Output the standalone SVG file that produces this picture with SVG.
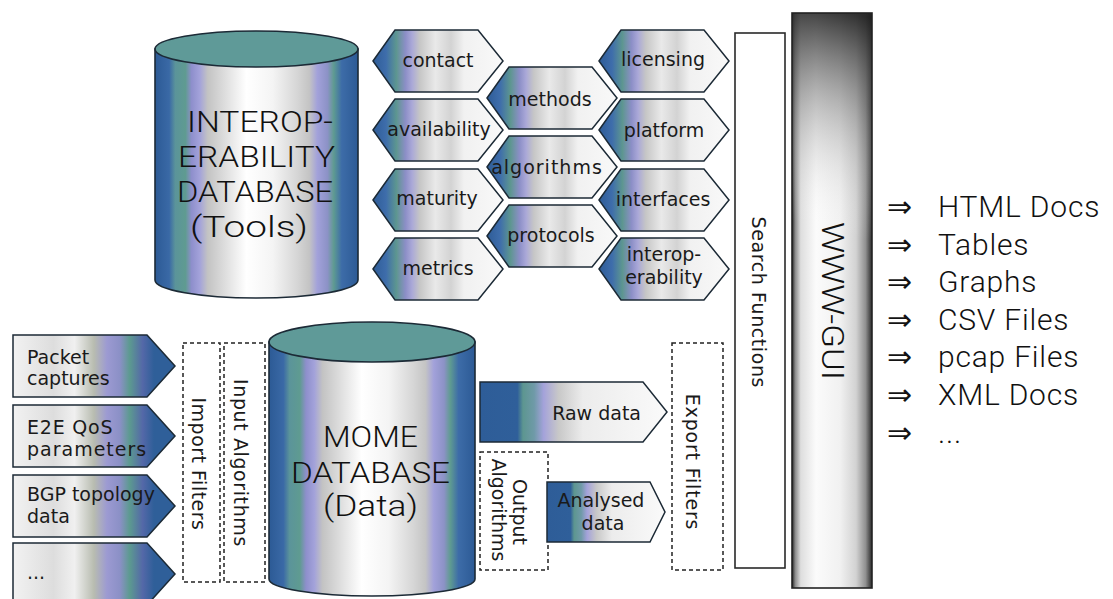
<svg xmlns="http://www.w3.org/2000/svg" xmlns:xlink="http://www.w3.org/1999/xlink" width="1113" height="599" viewBox="0 0 1113 599">
  <style>
    .lbl { font-family: "DejaVu Sans", Verdana, sans-serif; font-size: 19px; fill: #1a1a1a; }
    .lblc { text-anchor: middle; }
    .big { font-family: Roboto, "Liberation Sans", Arial, sans-serif; font-weight: 300; fill: #111111; }
    .list { font-family: Roboto, "Liberation Sans", Arial, sans-serif; font-weight: 300; font-size: 30px; fill: #111111; letter-spacing: 0.8px; }
    .arr { font-family: "DejaVu Sans", sans-serif; font-size: 30px; fill: #141414; }
    .edge { stroke: #1c2a36; stroke-width: 1.6; }
    .dash { fill: #ffffff; stroke: #222222; stroke-width: 1.5; stroke-dasharray: 4 3; }
    .box { fill: #ffffff; stroke: #2a2a2a; stroke-width: 1.6; }
    .rot { text-anchor: middle; }
  </style>
  <defs>
    <!-- cylinder body shading -->
    <linearGradient id="gCyl" x1="0" y1="0" x2="1" y2="0">
      <stop offset="0" stop-color="#2c5a95"/>
      <stop offset="0.07" stop-color="#3a69a6"/>
      <stop offset="0.1" stop-color="#5b949a"/>
      <stop offset="0.15" stop-color="#5f9b91"/>
      <stop offset="0.18" stop-color="#8e8fcc"/>
      <stop offset="0.22" stop-color="#a3a2da"/>
      <stop offset="0.26" stop-color="#c3c3c3"/>
      <stop offset="0.34" stop-color="#dcdcdc"/>
      <stop offset="0.45" stop-color="#ffffff"/>
      <stop offset="0.58" stop-color="#f4f4f4"/>
      <stop offset="0.7" stop-color="#d6d6d6"/>
      <stop offset="0.76" stop-color="#c4c4c4"/>
      <stop offset="0.8" stop-color="#a2a1da"/>
      <stop offset="0.85" stop-color="#8c92c6"/>
      <stop offset="0.88" stop-color="#5f9b91"/>
      <stop offset="0.92" stop-color="#3d6ca8"/>
      <stop offset="1" stop-color="#2c5a95"/>
    </linearGradient>
    <!-- hexagonal attribute tags: dark on the left -->
    <linearGradient id="gHex" x1="0" y1="0" x2="1" y2="0">
      <stop offset="0" stop-color="#2e5c97"/>
      <stop offset="0.1" stop-color="#3e6dab"/>
      <stop offset="0.18" stop-color="#5d9690"/>
      <stop offset="0.25" stop-color="#8c8fc7"/>
      <stop offset="0.3" stop-color="#aaa8d8"/>
      <stop offset="0.36" stop-color="#c6c6c6"/>
      <stop offset="0.48" stop-color="#e9e9e9"/>
      <stop offset="0.6" stop-color="#d3d3d3"/>
      <stop offset="0.7" stop-color="#f1f1f1"/>
      <stop offset="1" stop-color="#f9f9f9"/>
    </linearGradient>
    <!-- input source tags: dark on the right -->
    <linearGradient id="gIn" x1="0" y1="0" x2="1" y2="0">
      <stop offset="0" stop-color="#f2f2f2"/>
      <stop offset="0.25" stop-color="#dddddd"/>
      <stop offset="0.38" stop-color="#f0f0f0"/>
      <stop offset="0.5" stop-color="#b8bcb0"/>
      <stop offset="0.58" stop-color="#9c9ad2"/>
      <stop offset="0.66" stop-color="#8b90c6"/>
      <stop offset="0.72" stop-color="#5c9a90"/>
      <stop offset="0.8" stop-color="#5468a8"/>
      <stop offset="0.87" stop-color="#2f5f99"/>
      <stop offset="1" stop-color="#2f5f99"/>
    </linearGradient>
    <!-- output tags: solid dark block on the left -->
    <linearGradient id="gOut" x1="0" y1="0" x2="1" y2="0">
      <stop offset="0" stop-color="#2e5d98"/>
      <stop offset="0.2" stop-color="#2f5f9a"/>
      <stop offset="0.23" stop-color="#5d9690"/>
      <stop offset="0.29" stop-color="#6f9aa8"/>
      <stop offset="0.34" stop-color="#a4a2da"/>
      <stop offset="0.42" stop-color="#c8c8c8"/>
      <stop offset="0.55" stop-color="#ececec"/>
      <stop offset="1" stop-color="#fafafa"/>
    </linearGradient>
    <!-- web front end column -->
    <linearGradient id="gWeb" gradientUnits="userSpaceOnUse" x1="792" y1="300" x2="872" y2="300">
      <stop offset="0" stop-color="#202020"/>
      <stop offset="0.04" stop-color="#8a8a8a"/>
      <stop offset="0.11" stop-color="#dedede"/>
      <stop offset="0.3" stop-color="#fbfbfb"/>
      <stop offset="0.6" stop-color="#f1f1f1"/>
      <stop offset="0.8" stop-color="#d2d2d2"/>
      <stop offset="0.92" stop-color="#909090"/>
      <stop offset="1" stop-color="#2a2a2a"/>
    </linearGradient>
    <linearGradient id="gWebShade" gradientUnits="userSpaceOnUse" x1="878" y1="20" x2="825" y2="230">
      <stop offset="0" stop-color="#202020" stop-opacity="0.9"/>
      <stop offset="0.4" stop-color="#606060" stop-opacity="0.45"/>
      <stop offset="1" stop-color="#ffffff" stop-opacity="0"/>
    </linearGradient>
    <path id="hex" d="M0,31 L22,0 H105 L130,31 L105,62 H22 Z" fill="url(#gHex)" stroke="#1c2a36" stroke-width="1.5"/>
    <path id="inTag" d="M0,0 H134 L162,31 L134,62 H0 Z" fill="url(#gIn)" stroke="#1c2a36" stroke-width="1.5"/>
  </defs>

  <rect width="1113" height="599" fill="#ffffff"/>

  <!-- Interoperability database -->
  <g id="db-tools">
    <path class="edge" d="M155,49 V280 A101.5,18 0 0 0 358,280 V49 Z" fill="url(#gCyl)"/>
    <ellipse class="edge" cx="256.5" cy="49" rx="101.5" ry="18" fill="#5f9a98"/>
    <g class="big" font-size="29">
      <text x="187" y="132" textLength="146" lengthAdjust="spacingAndGlyphs">INTEROP-</text>
      <text x="178" y="167" textLength="157" lengthAdjust="spacingAndGlyphs">ERABILITY</text>
      <text x="177" y="202" textLength="156" lengthAdjust="spacingAndGlyphs">DATABASE</text>
      <text x="190" y="237" textLength="118" lengthAdjust="spacingAndGlyphs">(Tools)</text>
    </g>
  </g>

  <!-- tool attributes, left column -->
  <g id="tag-contact"><use xlink:href="#hex" x="373" y="30"/><text class="lbl lblc" x="438" y="67">contact</text></g>
  <g id="tag-availability"><use xlink:href="#hex" x="373" y="99"/><text class="lbl lblc" x="439" y="136">availability</text></g>
  <g id="tag-maturity"><use xlink:href="#hex" x="373" y="169"/><text class="lbl lblc" x="437" y="205">maturity</text></g>
  <g id="tag-metrics"><use xlink:href="#hex" x="373" y="238"/><text class="lbl lblc" x="438" y="275">metrics</text></g>

  <!-- tool attributes, middle column -->
  <g id="tag-methods"><use xlink:href="#hex" x="487" y="67"/><text class="lbl lblc" x="550" y="106">methods</text></g>
  <g id="tag-algorithms"><use xlink:href="#hex" x="487" y="136"/><text class="lbl lblc" x="547" y="174" letter-spacing="1">algorithms</text></g>
  <g id="tag-protocols"><use xlink:href="#hex" x="487" y="205"/><text class="lbl lblc" x="551" y="242">protocols</text></g>

  <!-- tool attributes, right column -->
  <g id="tag-licensing"><use xlink:href="#hex" x="599" y="30"/><text class="lbl lblc" x="663" y="66">licensing</text></g>
  <g id="tag-platform"><use xlink:href="#hex" x="599" y="99"/><text class="lbl lblc" x="664" y="137">platform</text></g>
  <g id="tag-interfaces"><use xlink:href="#hex" x="599" y="169"/><text class="lbl lblc" x="663" y="206">interfaces</text></g>
  <g id="tag-interoperability"><use xlink:href="#hex" x="599" y="238"/>
    <text class="lbl lblc" x="664" y="261">interop-</text>
    <text class="lbl lblc" x="664" y="284">erability</text>
  </g>

  <!-- data sources -->
  <g id="src-packet"><use xlink:href="#inTag" x="13" y="335"/>
    <text class="lbl" x="27" y="364">Packet</text><text class="lbl" x="27" y="385">captures</text></g>
  <g id="src-e2e"><use xlink:href="#inTag" x="13" y="405"/>
    <text class="lbl" x="27" y="434" letter-spacing="0.8">E2E QoS</text><text class="lbl" x="27" y="456" letter-spacing="1">parameters</text></g>
  <g id="src-bgp"><use xlink:href="#inTag" x="13" y="475"/>
    <text class="lbl" x="27" y="501">BGP topology</text><text class="lbl" x="27" y="523">data</text></g>
  <g id="src-more"><use xlink:href="#inTag" x="13" y="543"/>
    <text class="lbl" x="27" y="579" font-size="17">...</text></g>

  <!-- import stage -->
  <g id="import-filters">
    <rect class="dash" x="183" y="343" width="37" height="239"/>
    <text class="lbl rot" transform="translate(199,464) rotate(90)" dy="0.35em" letter-spacing="0.5">Import Filters</text>
  </g>
  <g id="input-algorithms">
    <rect class="dash" x="224" y="343" width="41" height="239"/>
    <text class="lbl rot" transform="translate(241,463) rotate(90)" dy="0.35em" letter-spacing="0.6">Input Algorithms</text>
  </g>

  <!-- MOME database -->
  <g id="db-mome">
    <path class="edge" d="M269,342 V579 A103,17 0 0 0 475,579 V342 Z" fill="url(#gCyl)"/>
    <ellipse class="edge" cx="372" cy="342" rx="103" ry="20" fill="#5f9a98"/>
    <g class="big" font-size="29">
      <text x="323" y="447" textLength="95" lengthAdjust="spacingAndGlyphs">MOME</text>
      <text x="291" y="483" textLength="159" lengthAdjust="spacingAndGlyphs">DATABASE</text>
      <text x="323" y="516" textLength="95" lengthAdjust="spacingAndGlyphs">(Data)</text>
    </g>
  </g>

  <!-- output stage -->
  <g id="raw-data">
    <path d="M480,382 H643 L667,412 L643,442 H480 Z" fill="url(#gOut)" stroke="#1c2a36" stroke-width="1.5"/>
    <text class="lbl" x="641" y="420" text-anchor="end">Raw data</text>
  </g>
  <g id="output-algorithms">
    <rect class="dash" x="480" y="452" width="68" height="118"/>
    <text class="lbl rot" transform="translate(520,512) rotate(90)" dy="0.35em">Output</text>
    <text class="lbl rot" transform="translate(499,510) rotate(90)" dy="0.35em">Algorithms</text>
  </g>
  <g id="analysed-data">
    <path d="M547,482 H650 L665,512 L650,542 H547 Z" fill="url(#gOut)" stroke="#1c2a36" stroke-width="1.5"/>
    <text class="lbl" x="601" y="507" text-anchor="middle">Analysed</text>
    <text class="lbl" x="603" y="530" text-anchor="middle">data</text>
  </g>
  <g id="export-filters">
    <rect class="dash" x="672" y="343" width="51" height="227"/>
    <text class="lbl rot" transform="translate(693,462) rotate(90)" dy="0.35em" letter-spacing="0.8">Export Filters</text>
  </g>

  <!-- search and web front end -->
  <g id="search-functions">
    <rect class="box" x="735" y="33" width="50" height="535"/>
    <text class="lbl rot" transform="translate(759,302) rotate(90)" dy="0.35em" textLength="171">Search Functions</text>
  </g>
  <g id="www-gui">
    <rect x="792" y="13" width="80" height="575" fill="url(#gWeb)"/>
    <rect x="792" y="13" width="80" height="575" fill="url(#gWebShade)" stroke="#222222" stroke-width="1.6"/>
    <text class="big rot" font-size="32" transform="translate(833,301) rotate(90)" dy="0.35em" textLength="158" lengthAdjust="spacingAndGlyphs">WWW-GUI</text>
  </g>

  <!-- output formats -->
  <g id="formats">
    <text class="arr" x="887" y="217">⇒</text><text class="list" x="938" y="217">HTML Docs</text>
    <text class="arr" x="887" y="255">⇒</text><text class="list" x="938" y="255">Tables</text>
    <text class="arr" x="887" y="292">⇒</text><text class="list" x="938" y="292">Graphs</text>
    <text class="arr" x="887" y="330">⇒</text><text class="list" x="938" y="330">CSV Files</text>
    <text class="arr" x="887" y="367">⇒</text><text class="list" x="938" y="367">pcap Files</text>
    <text class="arr" x="887" y="405">⇒</text><text class="list" x="938" y="405">XML Docs</text>
    <text class="arr" x="887" y="443">⇒</text><text class="list" x="938" y="443">...</text>
  </g>

  <g id="connectors"/>
</svg>
